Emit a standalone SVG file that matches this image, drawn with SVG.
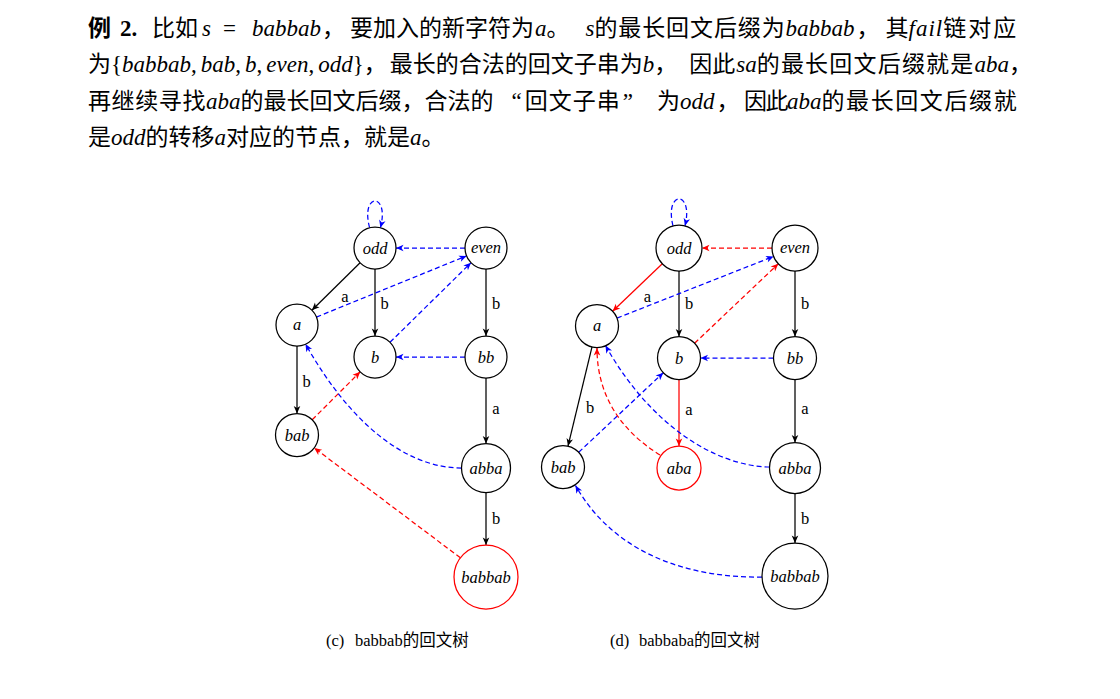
<svg xmlns="http://www.w3.org/2000/svg" width="1120" height="699" viewBox="0 0 1120 699">
<style>
.t{font-family:"Liberation Serif","Noto Sans CJK SC",serif;font-size:23px;fill:#000}
.m{font-style:italic}
.cap{font-family:"Liberation Serif","Noto Sans CJK SC",serif;font-size:16.5px;fill:#000}
.n{fill:#fff;stroke:#000;stroke-width:1.25}
.nr{fill:#fff;stroke:#f00;stroke-width:1.25}
.nl{font-family:"Liberation Serif",serif;font-style:italic;font-size:16.5px;text-anchor:middle;fill:#000}
.el{font-family:"Liberation Serif",serif;font-size:16.5px;text-anchor:middle;fill:#000}
.e{fill:none;stroke-width:1.25}
.k{stroke:#000;marker-end:url(#ak)}
.r{stroke:#f00;marker-end:url(#ar)}
.b{stroke:#00f;marker-end:url(#ab)}
.d{stroke-dasharray:5 3}
</style>
<defs>
<marker id="ak" viewBox="-8 -4 9 8" refX="0" refY="0" markerWidth="9" markerHeight="8" markerUnits="userSpaceOnUse" orient="auto"><path d="M0,0 L-7.5,-3.3 L-5.5,0 L-7.5,3.3 Z" fill="#000"/></marker>
<marker id="ar" viewBox="-8 -4 9 8" refX="0" refY="0" markerWidth="9" markerHeight="8" markerUnits="userSpaceOnUse" orient="auto"><path d="M0,0 L-7.5,-3.3 L-5.5,0 L-7.5,3.3 Z" fill="#f00"/></marker>
<marker id="ab" viewBox="-8 -4 9 8" refX="0" refY="0" markerWidth="9" markerHeight="8" markerUnits="userSpaceOnUse" orient="auto"><path d="M0,0 L-7.5,-3.3 L-5.5,0 L-7.5,3.3 Z" fill="#00f"/></marker>
</defs>
<rect width="1120" height="699" fill="#fff"/>

<g id="paragraph">
<text class="t" y="35.5"><tspan x="88" font-weight="bold">例</tspan><tspan dx="9" font-weight="bold">2.</tspan><tspan dx="14.75">比如</tspan><tspan class="m" dx="4">s</tspan><tspan dx="12">=</tspan><tspan class="m" dx="16">babbab</tspan><tspan dx="1">，</tspan><tspan dx="5">要加入的新字符为</tspan><tspan class="m" dx="1">a</tspan><tspan>。</tspan><tspan class="m" dx="16">s</tspan><tspan letter-spacing="0.9">的最长回文后缀为</tspan><tspan class="m">babbab</tspan><tspan dx="2">，</tspan><tspan dx="6">其</tspan><tspan class="m" letter-spacing="1">fail</tspan><tspan letter-spacing="2">链对应</tspan></text>
<text class="t" y="72"><tspan x="88">为</tspan><tspan>{</tspan><tspan class="m">babbab</tspan><tspan>,</tspan><tspan class="m" dx="4">bab</tspan><tspan>,</tspan><tspan class="m" dx="4">b</tspan><tspan>,</tspan><tspan class="m" dx="4">even</tspan><tspan>,</tspan><tspan class="m" dx="4">odd</tspan><tspan>}</tspan><tspan>，</tspan><tspan dx="3">最长的合法的回文子串为</tspan><tspan class="m">b</tspan><tspan>，</tspan><tspan dx="12">因此</tspan><tspan class="m" dx="1">sa</tspan><tspan letter-spacing="1.2">的最长回文后缀就是</tspan><tspan class="m">aba</tspan><tspan>，</tspan></text>
<text class="t" y="108.5"><tspan x="88" letter-spacing="0.6">再继续寻找</tspan><tspan class="m">aba</tspan><tspan>的最长回文后缀，合法的</tspan><tspan dx="18">“</tspan><tspan dx="3" letter-spacing="1">回文子串</tspan><tspan dx="2">”</tspan><tspan dx="24">为</tspan><tspan class="m">odd</tspan><tspan dx="2">，</tspan><tspan dx="4.5" letter-spacing="-1.5">因此</tspan><tspan class="m">aba</tspan><tspan letter-spacing="1.6">的最长回文后缀就</tspan></text>
<text class="t" y="145"><tspan x="88">是</tspan><tspan class="m">odd</tspan><tspan>的转移</tspan><tspan class="m">a</tspan><tspan>对应的节点，就是</tspan><tspan class="m">a</tspan><tspan>。</tspan></text>
</g>

<g id="connectors-c">
<path class="e k" d="M360.1,262.8 L311.9,310.2"/>
<path class="e k" d="M375,269 L375,336"/>
<path class="e k" d="M486,269 L486,336"/>
<path class="e k" d="M297,346 L297,413.5"/>
<path class="e k" d="M486,378 L486,443.5"/>
<path class="e k" d="M486,492.5 L486,545"/>
<path class="e b d" d="M369.6,227.7 C360,192 390,192 380.4,227.7"/>
<path class="e b d" d="M465,248 L396,248"/>
<path class="e b d" d="M316.4,317.1 L466.6,255.9"/>
<path class="e b d" d="M390,342.3 L471,262.7"/>
<path class="e b d" d="M465,357 L396,357"/>
<path class="e r d" d="M312.2,419.8 L360.2,371.8"/>
<path class="e b d" d="M461.5,468 C407,468 351,425 305.5,344"/>
<path class="e r d" d="M460.4,557.8 L314.2,447.9"/>
<text class="el" x="345" y="302">a</text>
<text class="el" x="384.5" y="309">b</text>
<text class="el" x="496" y="309">b</text>
<text class="el" x="306.5" y="386.5">b</text>
<text class="el" x="496" y="414">a</text>
<text class="el" x="496" y="524">b</text>
</g>

<g id="c-odd"><circle class="n" cx="375" cy="248" r="21"/><text class="nl" x="375" y="254">odd</text></g>
<g id="c-even"><circle class="n" cx="486" cy="248" r="21"/><text class="nl" x="486" y="253">even</text></g>
<g id="c-a"><circle class="n" cx="297" cy="325" r="21"/><text class="nl" x="297" y="330">a</text></g>
<g id="c-b"><circle class="n" cx="375" cy="357" r="21"/><text class="nl" x="375" y="363">b</text></g>
<g id="c-bb"><circle class="n" cx="486" cy="357" r="21"/><text class="nl" x="486" y="363">bb</text></g>
<g id="c-bab"><circle class="n" cx="297" cy="435" r="21.5"/><text class="nl" x="297" y="441">bab</text></g>
<g id="c-abba"><circle class="n" cx="486" cy="468" r="24.5"/><text class="nl" x="486" y="474">abba</text></g>
<g id="c-babbab"><circle class="nr" cx="486" cy="577" r="32"/><text class="nl" x="486" y="583">babbab</text></g>

<g id="connectors-d">
<path class="e r" d="M662.3,263.8 L612.6,311.2"/>
<path class="e k" d="M679,271 L679,336.5"/>
<path class="e k" d="M795,271 L795,336.5"/>
<path class="e k" d="M592,346.9 L568,446.1"/>
<path class="e r" d="M679,379.5 L679,446"/>
<path class="e k" d="M795,379.5 L795,442.5"/>
<path class="e k" d="M795,493.5 L795,543"/>
<path class="e b d" d="M673,225.8 C664,190 694,190 685,225.8"/>
<path class="e r d" d="M772,248 L702,248"/>
<path class="e b d" d="M617,318.1 L773.6,256.4"/>
<path class="e r d" d="M694.6,343.2 L778.3,263.8"/>
<path class="e b d" d="M773.5,358 L700.5,358"/>
<path class="e b d" d="M578.7,452.3 L663.3,372.7"/>
<path class="e r d" d="M660,455 C620,430 597,395 597,348"/>
<path class="e b d" d="M769.5,467 C715,466 650,425 605.5,345.5"/>
<path class="e b d" d="M762,577 C690,578 615,555 575.5,485.5"/>
<text class="el" x="647.5" y="302">a</text>
<text class="el" x="689" y="309">b</text>
<text class="el" x="805" y="309">b</text>
<text class="el" x="590" y="413">b</text>
<text class="el" x="689" y="415">a</text>
<text class="el" x="805" y="414">a</text>
<text class="el" x="805" y="524">b</text>
</g>

<g id="d-odd"><circle class="n" cx="679" cy="248" r="23"/><text class="nl" x="679" y="254">odd</text></g>
<g id="d-even"><circle class="n" cx="795" cy="248" r="23"/><text class="nl" x="795" y="253">even</text></g>
<g id="d-a"><circle class="n" cx="597" cy="326" r="21.5"/><text class="nl" x="597" y="331">a</text></g>
<g id="d-b"><circle class="n" cx="679" cy="358" r="21.5"/><text class="nl" x="679" y="364">b</text></g>
<g id="d-bb"><circle class="n" cx="795" cy="358" r="21.5"/><text class="nl" x="795" y="364">bb</text></g>
<g id="d-bab"><circle class="n" cx="563" cy="467" r="21.5"/><text class="nl" x="563" y="473">bab</text></g>
<g id="d-aba"><circle class="nr" cx="679" cy="468" r="22"/><text class="nl" x="679" y="474">aba</text></g>
<g id="d-abba"><circle class="n" cx="795" cy="468" r="25.5"/><text class="nl" x="795" y="474">abba</text></g>
<g id="d-babbab"><circle class="n" cx="795" cy="576" r="33"/><text class="nl" x="795" y="582">babbab</text></g>

<g id="captions">
<text class="cap" x="326" y="646">(c)</text>
<text class="cap" x="355" y="646">babbab的回文树</text>
<text class="cap" x="610" y="646">(d)</text>
<text class="cap" x="639" y="646">babbaba的回文树</text>
</g>
</svg>
